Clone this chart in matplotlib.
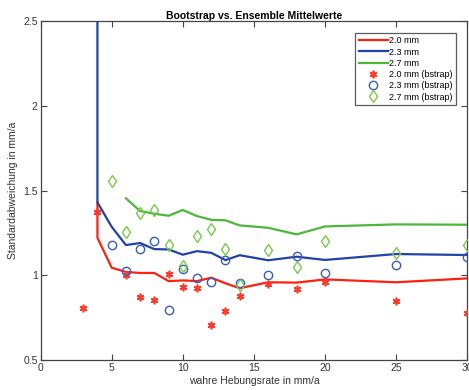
import matplotlib
matplotlib.use("Agg")
import matplotlib.pyplot as plt

plt.rcParams['font.family'] = ['Liberation Sans', 'DejaVu Sans']

# Ensemble lines
x_red = [4, 4, 5, 6, 7, 8, 9, 10, 11, 12, 13, 14, 16, 18, 20, 25, 30]
y_red = [1.43, 1.222, 1.045, 1.02, 1.014, 1.014, 0.966, 0.97, 0.966, 0.986, 0.953, 0.924, 0.959, 0.957, 0.976, 0.959, 0.982]

x_blue = [4, 4, 5, 6, 7, 8, 9, 10, 11, 12, 13, 14, 16, 18, 20, 25, 30]
y_blue = [3.0, 1.431, 1.287, 1.179, 1.191, 1.155, 1.153, 1.122, 1.143, 1.133, 1.09, 1.119, 1.089, 1.11, 1.091, 1.126, 1.12]

x_green = [6, 7, 8, 9, 10, 11, 12, 13, 14, 16, 18, 20, 25, 30]
y_green = [1.455, 1.38, 1.364, 1.352, 1.386, 1.35, 1.328, 1.325, 1.295, 1.281, 1.242, 1.289, 1.301, 1.299]

# Bootstrap points
xs_red = [3, 4, 6, 7, 8, 9, 10, 11, 12, 13, 14, 16, 18, 20, 25, 30]
ys_red = [0.809, 1.372, 1.002, 0.874, 0.856, 1.006, 0.933, 0.927, 0.708, 0.787, 0.878, 0.949, 0.921, 0.962, 0.846, 0.775]

xs_blue = [5, 6, 7, 8, 9, 10, 11, 12, 13, 14, 16, 18, 20, 25, 30]
ys_blue = [1.177, 1.025, 1.155, 1.203, 0.793, 1.039, 0.984, 0.962, 1.09, 0.955, 1.0, 1.116, 1.016, 1.063, 1.11]

xs_green = [5, 6, 7, 8, 9, 10, 11, 12, 13, 14, 16, 18, 20, 25, 30]
ys_green = [1.559, 1.258, 1.366, 1.384, 1.179, 1.057, 1.234, 1.275, 1.155, 0.943, 1.151, 1.049, 1.204, 1.132, 1.181]

xticks = [0, 5, 10, 15, 20, 25, 30]
yticks = [0.5, 1, 1.5, 2, 2.5]

fig = plt.figure(figsize=(4.69, 3.9), dpi=100)
ax = fig.add_axes([0.0864, 0.077, 0.910, 0.868])

c_red = '#ff2010'
c_blue = '#2242a8'
c_green = '#4cb83a'

ax.plot(x_red, y_red, color=c_red, lw=1.6, label='2.0 mm', zorder=3)
ax.plot(x_blue, y_blue, color=c_blue, lw=1.6, label='2.3 mm', zorder=3)
ax.plot(x_green, y_green, color=c_green, lw=1.6, label='2.7 mm', zorder=3)

ax.plot(xs_red, ys_red, linestyle='none', marker=(6, 2, 0), ms=5.5, color='#ff3a2a',
        mec='#ff3a2a', mew=1.2, label='2.0 mm (bstrap)', zorder=4)
ax.plot(xs_blue, ys_blue, linestyle='none', marker='o', ms=6, mfc='none',
        mec='#3a5cc0', mew=1.0, label='2.3 mm (bstrap)', zorder=4)
ax.plot(xs_green, ys_green, linestyle='none', marker='d', ms=6.5, mfc='none',
        mec='#7cc84a', mew=1.0, label='2.7 mm (bstrap)', zorder=4)

ax.set_xlim(0, 30)
ax.set_ylim(0.5, 2.5)
ax.set_xticks(xticks)
ax.set_yticks(yticks)
ax.set_xticklabels([str(t) for t in xticks])
ax.set_yticklabels(['0.5', '1', '1.5', '2', '2.5'])

for s in ax.spines.values():
    s.set_color('#444444')
    s.set_linewidth(0.9)
ax.tick_params(direction='in', length=4, width=0.8, color='#444444',
               labelsize=7.5, labelcolor='#333333', top=True, right=True, pad=2)

ax.set_title('Bootstrap vs. Ensemble Mittelwerte', fontsize=7.5, fontweight='bold', pad=1.5)
ax.set_xlabel('wahre Hebungsrate in mm/a', fontsize=7.5, color='#333333', labelpad=2)
ax.set_ylabel('Standardabweichung in mm/a', fontsize=7.5, color='#333333', labelpad=4)

leg = ax.legend(loc='upper right', fontsize=6.5, frameon=True, fancybox=False,
                edgecolor='#333333', handlelength=3.2, handletextpad=0.15,
                labelspacing=0.25, borderpad=0.4, bbox_to_anchor=(0.985, 0.98))
leg.get_frame().set_linewidth(0.9)

fig.savefig('out.png', dpi=100)
